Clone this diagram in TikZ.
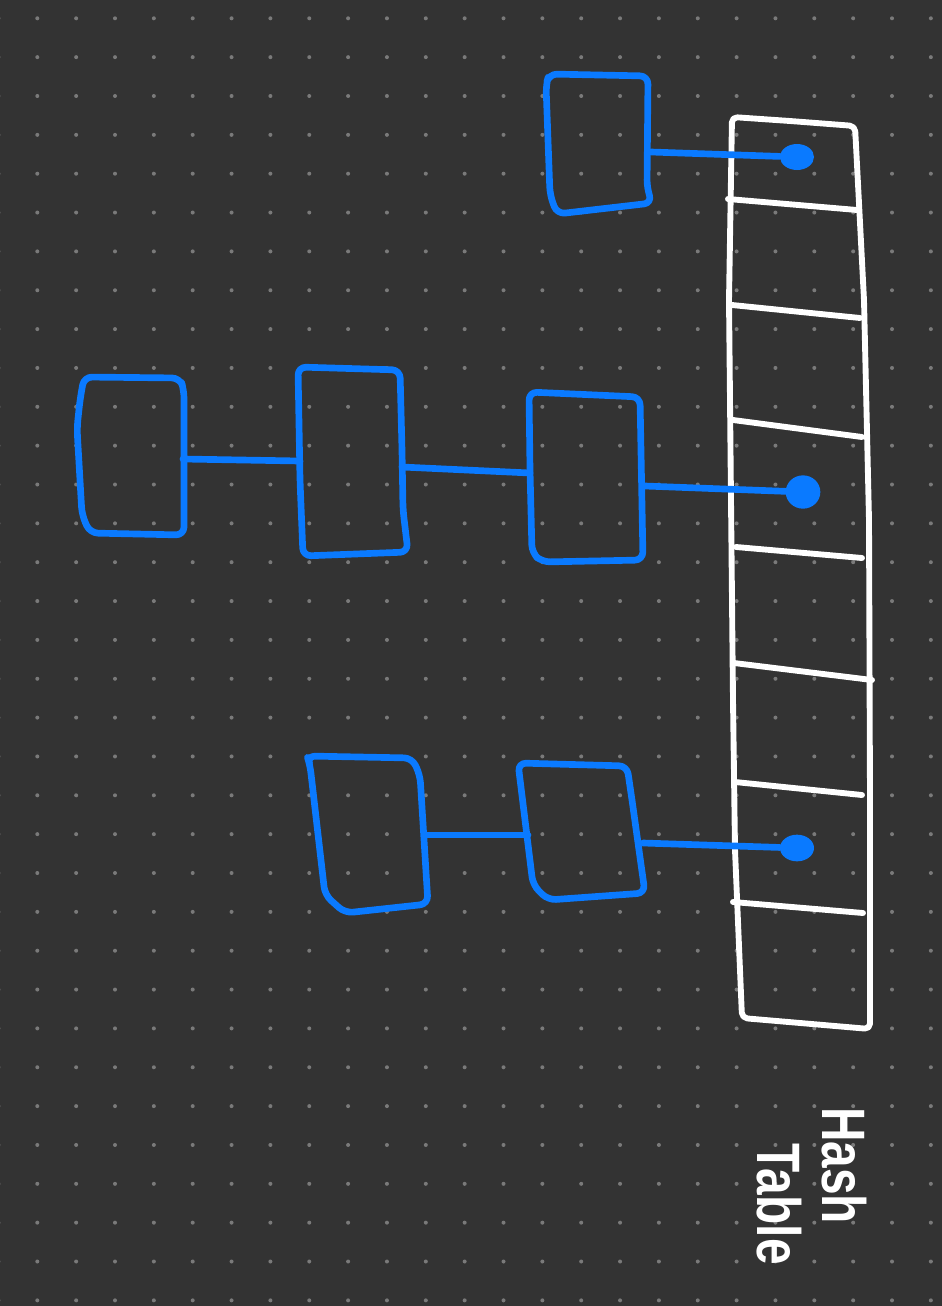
\documentclass[tikz,border=0pt]{standalone}
\usepackage{fontspec}
\setmainfont{Liberation Sans}
\usetikzlibrary{shapes.geometric}
\definecolor{board}{HTML}{333333}
\definecolor{grid}{HTML}{7A7A7A}
\definecolor{pen}{HTML}{0A7AFF}

\begin{document}
\begin{tikzpicture}[x=0.75pt,y=-0.75pt,
    bucket/.style={draw=white,line width=4.4pt,line cap=round,line join=round},
    entry/.style={draw=pen,line width=5pt,line cap=round,line join=round,rounded corners=6pt},
    link/.style={draw=pen,line width=5pt,line cap=round},
    slotdot/.style={ellipse,fill=pen,inner sep=0pt},
    tablename/.style={text=white,font=\fontsize{46}{50}\selectfont\bfseries,rotate=-90,xscale=0.78,anchor=base west,inner sep=0pt}]
    \path[use as bounding box] (0,0) rectangle (942,1306);
    % Background.
    \fill[board] (0,0) rectangle (942,1306);
    \foreach \i in {0,...,24}
    \foreach \j in {0,...,33}
    \fill[grid] (-1.55+38.85*\i,18.3+38.85*\j) circle[radius=1.5pt];
    % Table.
    \draw[bucket,rounded corners=4pt] (732,117) -- (790,121) -- (855,126) -- (864,300) -- (869,520)
      -- (870,800) -- (870,1029) -- (742,1018) -- (735,850) -- (733,700) -- (729,300) -- cycle;
    \foreach \xl/\yl/\xr/\yr in {728/199/857/210, 732/305/860/318, 733/420/862/437,
      736/547/862/558, 734/663/872/680, 735/782/862/795, 733/902/863/913}
    \draw[bucket] (\xl,\yl) -- (\xr,\yr);
    \node[tablename] (hash) at (822,1107) {Hash};
    \node[tablename] (tbl) at (757,1143) {Table};
    % Slots in use.
    \node[slotdot,minimum width=25.5pt,minimum height=19.5pt] (dota) at (797,157) {};
    \node[slotdot,minimum width=26pt,minimum height=25pt] (dotb) at (803,492) {};
    \node[slotdot,minimum width=25.5pt,minimum height=20pt] (dotc) at (797,848) {};
    % First chain.
    \draw[entry] (549,74) -- (648,76) -- (647,188) -- (652,203) -- (557,214) -- (550,195)
      -- (546,85) -- cycle;
    \coordinate (a1) at (651,152);
    \draw[link] (a1) -- (dota);
    % Second chain.
    \draw[entry] (84,377) -- (180,378) -- (184,390) -- (184,535) -- (90,533) -- (82,515)
      -- (77,428) -- (80,400) -- cycle;
    \draw[entry] (298,367) -- (400,370) -- (402,450) -- (403,510) -- (408,552) -- (303,556)
      -- (300,480) -- cycle;
    \draw[entry] (529,392) -- (640,397) -- (643,560) -- (542,562) -- (532,553) -- (530,470)
      -- cycle;
    \coordinate (b1) at (183,459);
    \coordinate (b2l) at (300,461);
    \coordinate (b2r) at (402,467);
    \coordinate (b3l) at (530,473);
    \coordinate (b3r) at (645,486);
    \draw[link] (b1) -- (b2l);
    \draw[link] (b2r) -- (b3l);
    \draw[link] (b3r) -- (dotb);
    % Third chain.
    \draw[entry] (307,756) -- (412,758) -- (420,775) -- (428,904) -- (345,913) -- (325,895)
      -- (310,765) -- cycle;
    \draw[entry] (518,763) -- (627,766) -- (632,800) -- (645,893) -- (548,900) -- (533,885)
      -- cycle;
    \coordinate (c1) at (427,835);
    \coordinate (c2l) at (528,835);
    \coordinate (c2r) at (643,843);
    \draw[link] (c1) -- (c2l);
    \draw[link] (c2r) -- (dotc);
\end{tikzpicture}
\end{document}
